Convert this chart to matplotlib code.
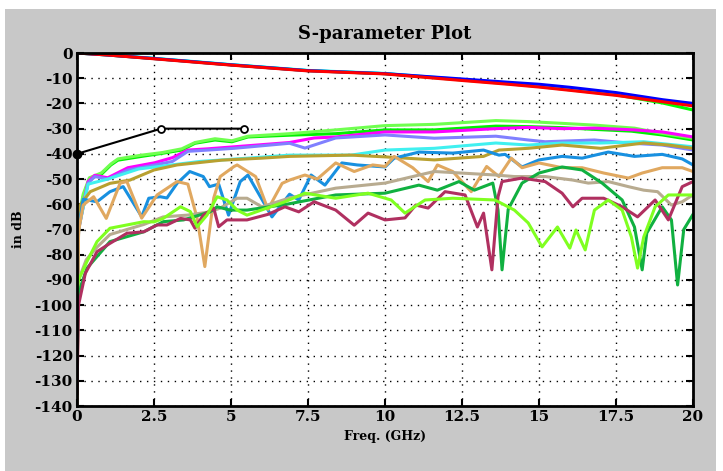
import matplotlib
matplotlib.use("Agg")
import matplotlib.pyplot as plt
from matplotlib.patches import Rectangle

# insertion loss traces
f_il = [0, 1, 2.5, 5, 7.5, 10, 12.5, 14, 15, 16, 17.5, 19, 20]
il_red = [0, -0.8, -2.3, -4.8, -7.1, -8.3, -10.9, -12.4, -13.5, -14.8, -16.8, -19.3, -21.0]
il_blue = [0, -0.8, -2.2, -4.7, -7.0, -8.2, -10.3, -11.6, -12.4, -13.6, -15.7, -18.5, -20.0]
il_cyan = [0, -0.7, -2.1, -4.6, -6.9, -8.1, -10.5, -11.9, -12.8, -14.1, -16.2, -18.9, -20.6]
il_green = [0, -0.8, -2.2, -4.7, -7.0, -8.2, -10.7, -12.2, -13.3, -14.6, -16.6, -19.8, -22.6]

# black marker line
f_mark = [0, 2.73, 5.43]
db_mark = [-40, -30, -30]

f_green = [0, 0.03, 0.2, 0.4, 0.8, 1.1, 1.33, 2.1, 2.76, 3.4, 3.83, 4.48, 5.03, 5.55,
           6.9, 8.4, 10, 11.6, 13.6, 14.65, 15.75, 16.8, 18, 19, 20]
db_green = [-75, -68, -57, -50, -48, -44.4, -42.5, -41, -39.8, -38.5, -35.8, -34.5, -35.2,
            -33.3, -32.6, -32, -30.5, -30.5, -29, -29.2, -29.6, -30.3, -31, -32.5, -34.5]

f_pale = [0, 0.03, 0.2, 0.4, 0.8, 1.1, 1.33, 2.1, 2.76, 3.4, 3.83, 4.48, 5.03, 5.55,
          6.9, 8.4, 10, 11.6, 13.6, 14.65, 15.75, 16.8, 18.1, 19, 20]
db_pale = [-74, -67, -56, -49.5, -47.5, -44, -42, -40.5, -39.5, -38, -35.5, -34, -34.8,
           -33, -32, -30.5, -28.8, -28.3, -26.8, -27.2, -27.9, -28.6, -29.8, -31.9, -33.8]

f_mag = [0, 0.05, 0.36, 0.58, 1.0, 1.65, 2.53, 3.1, 3.6, 4.25, 5.1, 6.9, 7.7, 8.4, 10,
         11.6, 13.6, 14.65, 15.75, 16.8, 18.1, 19, 20]
db_mag = [-120, -70, -51, -48.5, -49.5, -45.5, -43.5, -41.5, -38.5, -38, -37.2, -35.5,
          -33.7, -33.3, -31.3, -31.3, -30, -29.5, -30, -29.8, -30.5, -31.3, -33.3]

f_peri = [0, 0.05, 0.36, 0.58, 1.0, 1.65, 2.53, 3.1, 3.6, 4.25, 5.1, 6.9, 7.4, 8.4, 10,
          11.6, 13.6, 14.65, 15.2, 16.8, 17.9, 19, 20]
db_peri = [-120, -70, -51.6, -49, -50, -46.4, -44.4, -43, -39, -38.5, -37.8, -35.8, -37.7,
           -33.7, -32.5, -33.8, -33, -34.5, -35.2, -34.5, -35.7, -36.5, -38.5]

f_cyan = [0, 0.05, 0.36, 1, 2, 3, 4, 5.55, 6.9, 8.9, 10, 11.6, 13.6, 14.65, 15.75, 17,
          18.4, 20]
db_cyan = [-110, -70, -52, -50, -46, -44.5, -43, -41.7, -40.5, -40.5, -38.5, -37.8, -35.7,
           -36.5, -35.7, -35.7, -35.2, -37.2]

f_olive = [0, 0.05, 0.1, 0.43, 1.07, 1.72, 2.5, 3.25, 4.7, 6, 6.9, 8.9, 10, 11.6, 13.2,
           13.7, 14.65, 15.75, 17, 18.4, 19.2, 20]
db_olive = [-100, -72, -60.3, -55, -51.7, -50.4, -46.4, -44.4, -42.5, -41.7, -41, -40.5,
            -41.2, -42.4, -41, -38.5, -37.8, -36.5, -37.8, -35.7, -36.5, -37.8]

f_blue = [0, 0.05, 0.2, 0.65, 1.07, 1.5, 2.1, 2.33, 2.7, 2.92, 3.25, 3.66, 4.1, 4.3, 4.6,
          4.92, 5.3, 5.55, 6.33, 6.9, 7.2, 7.6, 8.05, 8.6, 9.1, 10, 10.3, 11.1, 12.2,
          13.2, 13.7, 13.9, 14.45, 15, 15.75, 16.4, 17.25, 18.1, 19, 19.65, 20]
db_blue = [-110, -70, -58, -59, -55, -53, -64.9, -57.6, -57, -57.5, -51.7, -47, -49, -53,
           -52, -64.3, -51, -48.4, -65, -56, -58.3, -48.4, -52.4, -43.6, -44.4, -45.2,
           -41.7, -39.3, -39.7, -38.5, -40.5, -40.2, -45.2, -42.4, -41, -41.7, -39.3,
           -41, -40.2, -42, -44.4]

f_tan = [0, 0.05, 0.2, 0.54, 0.95, 1.4, 1.62, 2.1, 2.6, 3.25, 3.6, 3.9, 4.15, 4.44, 4.65,
         5.1, 5.2, 5.8, 6.2, 6.66, 6.9, 7.4, 7.8, 8.4, 9.0, 9.6, 10, 10.3, 10.9, 11.4,
         11.7, 12.2, 12.8, 13.3, 13.7, 14.1, 14.45, 15, 15.75, 16.4, 17.1, 17.9, 18.35,
         19, 19.65, 20]
db_tan = [-145, -70.9, -60.3, -57, -65.6, -51.6, -51, -65.5, -56.3, -51, -52, -65.5,
          -84.7, -57.5, -49, -45, -44.4, -49, -62, -51.7, -50.4, -48.4, -50, -43.6, -47,
          -44.4, -45, -41, -45.5, -51, -44.4, -47, -55, -45, -49, -41.7, -45.5, -43.6,
          -45.5, -45.5, -47.6, -49.6, -47.6, -45.5, -45.5, -47]

f_khaki = [0, 0.05, 0.3, 0.65, 1.07, 2.17, 2.8, 3.58, 4.32, 4.65, 5.2, 5.52, 6, 6.9, 8.4,
           10, 10.9, 11.6, 13.6, 14.2, 15.2, 16.1, 16.6, 17.25, 17.9, 18.4, 18.85, 19.3,
           19.65, 20]
db_khaki = [-100, -90, -82, -77, -72, -68, -65, -64.3, -63, -61.5, -57.6, -57.6, -61,
            -57.5, -53.6, -51.6, -49, -47, -48.4, -49, -49, -50.4, -51.6, -51, -53,
            -54.4, -55, -60.3, -59, -56.3]

f_mgreen = [0, 0.05, 0.32, 1.07, 2.17, 2.8, 3.46, 4.32, 4.55, 4.97, 5.52, 6.8, 8.4, 10,
            11.1, 11.7, 12.4, 12.9, 13.5, 13.67, 13.8, 14, 14.45, 15, 15.75, 16.4,
            17.05, 17.7, 18.1, 18.35, 18.5, 19, 19.3, 19.5, 19.7, 20]
db_mgreen = [-128, -95, -85.4, -74.8, -70.9, -66.9, -66.2, -63, -61, -62.3, -62.3, -60,
             -56.3, -55.6, -52.4, -54.4, -51, -54.4, -51.6, -62.3, -86, -62, -51.6, -47.6,
             -45.2, -46.4, -51.6, -58.3, -69, -86, -71.4, -61, -66.2, -92, -70, -64]

f_maroon = [0, 0.05, 0.27, 0.65, 1.07, 1.62, 2.17, 2.6, 2.92, 3.36, 3.68, 3.83, 4.1,
            4.44, 4.6, 4.87, 5.52, 6.2, 6.75, 7.2, 7.7, 8.4, 9.0, 9.45, 10, 10.65, 11,
            11.4, 11.95, 12.6, 13.0, 13.2, 13.47, 13.67, 13.8, 14.45, 15.2, 15.75, 16.1,
            16.4, 17.1, 17.7, 18.2, 18.77, 19.2, 19.65, 20]
db_maroon = [-135, -100, -87.4, -78.8, -75.5, -71.5, -70.9, -68.2, -68.2, -65.6, -66.2,
             -69.5, -64.3, -61.6, -68.9, -66.2, -66.2, -64, -61, -63, -59, -62.3, -68.3,
             -63.5, -66.2, -65.4, -60.3, -61.5, -55, -56.3, -69, -63.5, -86, -57, -51,
             -49.6, -51, -55.6, -61, -57.6, -57.6, -61, -65, -58.3, -66.2, -53, -51]

f_lime = [0, 0.05, 0.32, 0.65, 1.07, 2.17, 2.5, 2.8, 3.36, 3.68, 3.9, 4.22, 4.55, 4.87,
          5.2, 5.52, 6.75, 7.4, 8.4, 9.45, 10.2, 10.65, 11.3, 12.2, 13.57, 14.2, 14.65,
          15.1, 15.6, 16, 16.2, 16.5, 16.8, 17.25, 17.7, 18.0, 18.2, 18.4, 18.77, 19.2, 20]
db_lime = [-95, -90, -82.8, -74.8, -69.5, -66.9, -67, -65.6, -61, -62.9, -68.9, -64.3,
           -57, -58.3, -62.3, -64.3, -59, -55.6, -57.6, -55.6, -58.3, -63.5, -58.3, -57.6,
           -58.3, -62.3, -67.4, -76.9, -69, -77.4, -70.2, -78.1, -62.3, -58.3, -62.3,
           -73, -85.3, -73, -61, -56.3, -56.3]

traces = [
    (f_green, db_green, "#00f000"),
    (f_pale, db_pale, "#70ff50"),
    (f_mag, db_mag, "#ff00ff"),
    (f_peri, db_peri, "#8080ff"),
    (f_cyan, db_cyan, "#40f0f0"),
    (f_olive, db_olive, "#b8a030"),
    (f_blue, db_blue, "#1890e0"),
    (f_tan, db_tan, "#e0a860"),
    (f_khaki, db_khaki, "#b8ab90"),
    (f_mgreen, db_mgreen, "#10b040"),
    (f_maroon, db_maroon, "#b03060"),
    (f_lime, db_lime, "#80ff20"),
]

plt.rcParams['font.family'] = 'DejaVu Serif'
plt.rcParams['font.weight'] = 'bold'
plt.rcParams['axes.unicode_minus'] = False

fig = plt.figure(figsize=(7.23, 4.71), dpi=100, facecolor='white')
fig.patches.append(Rectangle((5 / 723, 0), 711 / 723, 462 / 471, transform=fig.transFigure,
                             facecolor='#c8c8c8', edgecolor='none', zorder=-10))
ax = fig.add_axes([77 / 723, 1 - 406 / 471, 616 / 723, 353 / 471])
ax.set_facecolor('white')

for f, db, c in traces:
    ax.plot(f, db, color=c, lw=2.2)

ax.plot(f_il, il_green, color='#00ff00', lw=2.2)
ax.plot(f_il, il_cyan, color='#00ffff', lw=2.2)
ax.plot(f_il, il_blue, color='#0000ff', lw=2.2)
ax.plot(f_il, il_red, color='#ff0000', lw=2.2)

ax.plot(f_mark, db_mark, color='black', lw=1.5, marker='o', ms=5, mfc='white', mec='black',
        mew=1.3, markevery=[1, 2], zorder=5)
ax.plot(f_mark[:1], db_mark[:1], color='black', marker='o', ms=6, ls='none',
        clip_on=False, zorder=5)

ax.set_xlim(0, 20)
ax.set_ylim(-140, 0)
ax.set_xticks([0, 2.5, 5, 7.5, 10, 12.5, 15, 17.5, 20])
ax.set_xticklabels(['0', '2.5', '5', '7.5', '10', '12.5', '15', '17.5', '20'])
ax.set_yticks(range(-140, 1, 10))
ax.grid(True, color='black', linestyle=(0, (1, 4)), linewidth=1)
ax.tick_params(direction='in', length=5, width=1.5, top=True, right=True,
               labelsize=11, pad=3)
for s in ax.spines.values():
    s.set_linewidth(2)

ax.set_title('S-parameter Plot', fontsize=13, fontweight='bold', pad=10)
ax.set_xlabel('Freq. (GHz)', fontsize=9, fontweight='bold', labelpad=4)
ax.set_ylabel('in dB', fontsize=9, fontweight='bold', labelpad=7)

fig.savefig('out.png', dpi=100, facecolor=fig.get_facecolor())
